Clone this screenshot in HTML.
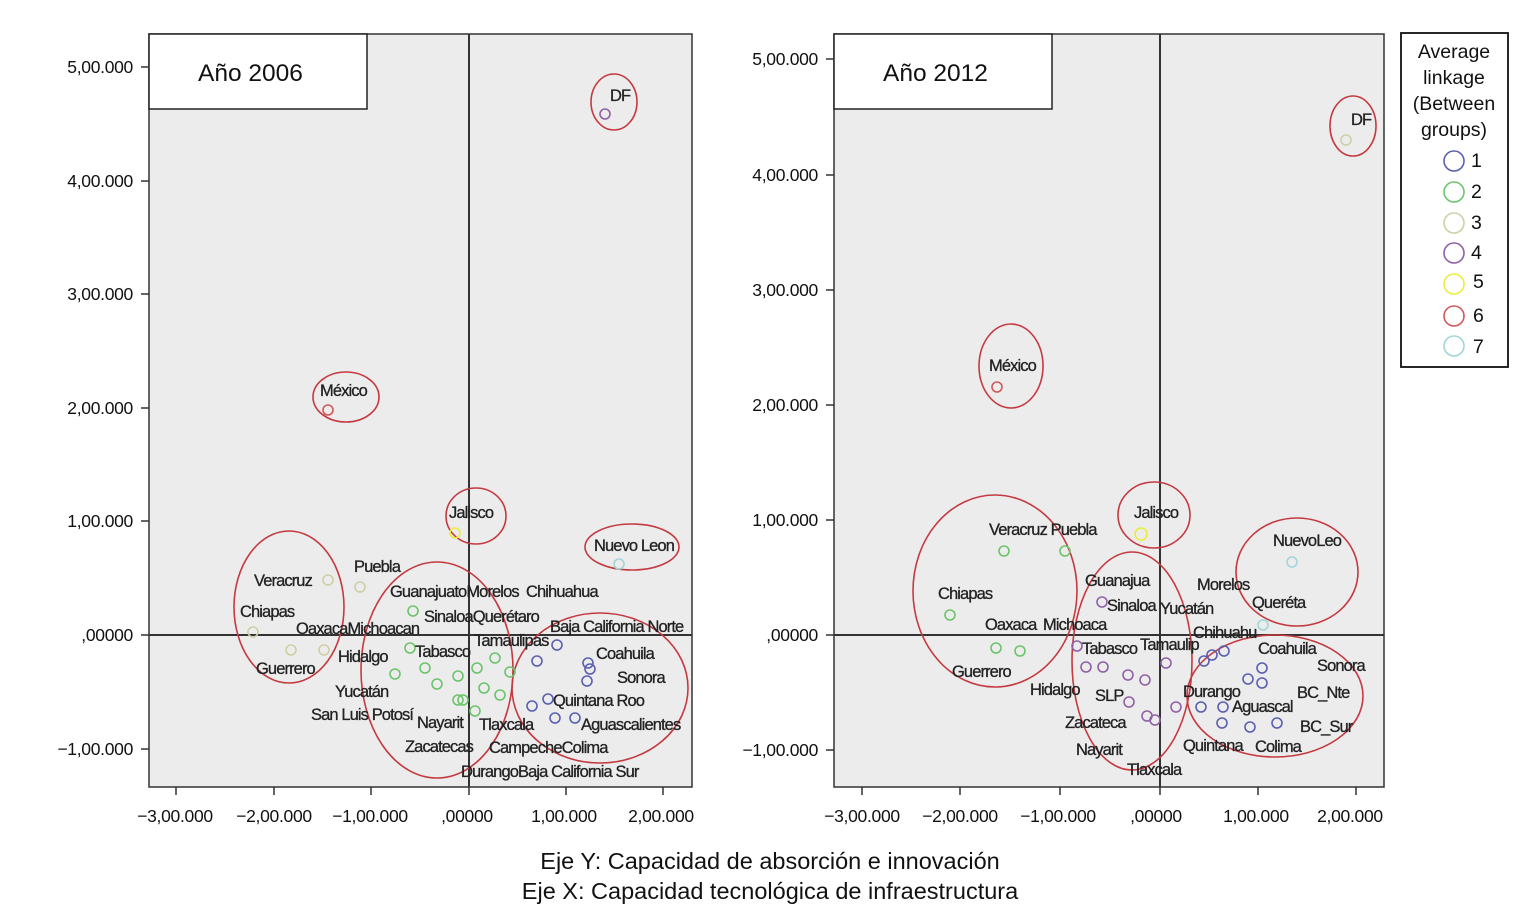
<!DOCTYPE html>
<html><head><meta charset="utf-8"><style>
body{margin:0;background:#fff}
svg{display:block}
.l{font-family:"Liberation Sans",sans-serif;font-size:16.5px;fill:#222;letter-spacing:-0.9px;stroke:#222;stroke-width:0.3}
.t{font-family:"Liberation Sans",sans-serif;font-size:17.5px;fill:#111;letter-spacing:-0.3px}
.e{fill:none;stroke:#c43a40;stroke-width:1.6}
circle{fill:none;stroke-width:1.6}
.b{stroke:#5a5fb0}.g{stroke:#6cc46a}.k{stroke:#cfcfa6}.p{stroke:#9060a8}.y{stroke:#ecec40}.r{stroke:#d05a5a}.c{stroke:#9fd6d6}
</style></head><body>
<svg width="1535" height="906" viewBox="0 0 1535 906">
<!-- Plot 1 -->
<rect x="149" y="34" width="543" height="753" fill="#ececec" stroke="#333" stroke-width="1.5"/>
<line x1="469" y1="34" x2="469" y2="787" stroke="#333" stroke-width="2"/>
<rect x="149" y="34" width="218" height="75" fill="#fff" stroke="#222" stroke-width="1.5"/>
<text x="198" y="81" font-family="Liberation Sans" font-size="24.5" fill="#111">Año 2006</text>
<line x1="149" y1="635" x2="692" y2="635" stroke="#333" stroke-width="2"/>
<g stroke="#333" stroke-width="1.5">
<line x1="141" y1="67" x2="149" y2="67"/><line x1="141" y1="181" x2="149" y2="181"/><line x1="141" y1="294" x2="149" y2="294"/><line x1="141" y1="408" x2="149" y2="408"/><line x1="141" y1="521" x2="149" y2="521"/><line x1="141" y1="635" x2="149" y2="635"/><line x1="141" y1="749" x2="149" y2="749"/>
<line x1="176" y1="787" x2="176" y2="795"/><line x1="274" y1="787" x2="274" y2="795"/><line x1="371" y1="787" x2="371" y2="795"/><line x1="469" y1="787" x2="469" y2="795"/><line x1="566" y1="787" x2="566" y2="795"/><line x1="663" y1="787" x2="663" y2="795"/>
</g>
<g class="t" text-anchor="end">
<text x="133" y="73">5,00.000</text><text x="133" y="187">4,00.000</text><text x="133" y="300">3,00.000</text><text x="133" y="414">2,00.000</text><text x="133" y="527">1,00.000</text><text x="133" y="641">,00000</text><text x="133" y="755">−1,00.000</text>
</g>
<g class="t" text-anchor="middle">
<text x="175" y="822">−3,00.000</text><text x="274" y="822">−2,00.000</text><text x="370" y="822">−1,00.000</text><text x="467" y="822">,00000</text><text x="564" y="822">1,00.000</text><text x="661" y="822">2,00.000</text>
</g>
<ellipse class="e" cx="289" cy="607" rx="55" ry="76"/>
<ellipse class="e" cx="437" cy="670" rx="76" ry="108"/>
<ellipse class="e" cx="600" cy="688" rx="88" ry="75"/>
<ellipse class="e" cx="632" cy="547" rx="47" ry="23"/>
<ellipse class="e" cx="476" cy="516" rx="30" ry="28"/>
<ellipse class="e" cx="346" cy="397" rx="33" ry="25"/>
<ellipse class="e" cx="614" cy="102" rx="23" ry="28"/>
<g>
<circle class="p" cx="605" cy="114" r="5"/><circle class="r" cx="328" cy="410" r="5"/>
<circle class="y" cx="455" cy="533" r="5"/><circle class="c" cx="619" cy="564" r="5"/>
<circle class="k" cx="328" cy="580" r="5"/><circle class="k" cx="360" cy="587" r="5"/><circle class="k" cx="253" cy="632" r="5"/><circle class="k" cx="291" cy="650" r="5"/><circle class="k" cx="324" cy="650" r="5"/>
<circle class="g" cx="413" cy="611" r="5"/><circle class="g" cx="410" cy="648" r="5"/><circle class="g" cx="395" cy="674" r="5"/><circle class="g" cx="425" cy="668" r="5"/><circle class="g" cx="437" cy="684" r="5"/><circle class="g" cx="458" cy="676" r="5"/><circle class="g" cx="458" cy="700" r="5"/><circle class="g" cx="463" cy="700" r="5"/><circle class="g" cx="475" cy="711" r="5"/><circle class="g" cx="477" cy="668" r="5"/><circle class="g" cx="495" cy="658" r="5"/><circle class="g" cx="484" cy="688" r="5"/><circle class="g" cx="500" cy="695" r="5"/><circle class="g" cx="510" cy="672" r="5"/>
<circle class="b" cx="557" cy="645" r="5"/><circle class="b" cx="537" cy="661" r="5"/><circle class="b" cx="588" cy="663" r="5"/><circle class="b" cx="590" cy="669" r="5"/><circle class="b" cx="587" cy="681" r="5"/><circle class="b" cx="548" cy="699" r="5"/><circle class="b" cx="532" cy="706" r="5"/><circle class="b" cx="555" cy="718" r="5"/><circle class="b" cx="575" cy="718" r="5"/>
</g>
<g class="l">
<text x="610" y="101">DF</text><text x="320" y="396">México</text><text x="449" y="518">Jalisco</text><text x="594" y="551">Nuevo Leon</text>
<text x="254" y="586">Veracruz</text><text x="354" y="572">Puebla</text><text x="240" y="617">Chiapas</text>
<text x="390" y="597">GuanajuatoMorelos</text><text x="526" y="597">Chihuahua</text><text x="424" y="622">SinaloaQuerétaro</text>
<text x="296" y="634">OaxacaMichoacan</text><text x="550" y="632">Baja California Norte</text><text x="474" y="646">Tamaulipas</text>
<text x="415" y="657">Tabasco</text><text x="338" y="662">Hidalgo</text><text x="596" y="659">Coahuila</text><text x="256" y="674">Guerrero</text>
<text x="617" y="683">Sonora</text><text x="335" y="697">Yucatán</text><text x="553" y="706">Quintana Roo</text>
<text x="311" y="720">San Luis Potosí</text><text x="417" y="728">Nayarit</text><text x="479" y="730">Tlaxcala</text><text x="581" y="730">Aguascalientes</text>
<text x="405" y="752">Zacatecas</text><text x="489" y="753">CampecheColima</text><text x="461" y="777">DurangoBaja California Sur</text>
</g>
<!-- Plot 2 -->
<rect x="834" y="34" width="550" height="753" fill="#ececec" stroke="#333" stroke-width="1.5"/>
<line x1="1160" y1="34" x2="1160" y2="787" stroke="#333" stroke-width="2"/>
<rect x="834" y="34" width="218" height="75" fill="#fff" stroke="#222" stroke-width="1.5"/>
<text x="883" y="81" font-family="Liberation Sans" font-size="24.5" fill="#111">Año 2012</text>
<line x1="834" y1="635" x2="1384" y2="635" stroke="#333" stroke-width="2"/>
<g stroke="#333" stroke-width="1.5">
<line x1="826" y1="59" x2="834" y2="59"/><line x1="826" y1="175" x2="834" y2="175"/><line x1="826" y1="290" x2="834" y2="290"/><line x1="826" y1="405" x2="834" y2="405"/><line x1="826" y1="520" x2="834" y2="520"/><line x1="826" y1="635" x2="834" y2="635"/><line x1="826" y1="750" x2="834" y2="750"/>
<line x1="862" y1="787" x2="862" y2="795"/><line x1="960" y1="787" x2="960" y2="795"/><line x1="1060" y1="787" x2="1060" y2="795"/><line x1="1160" y1="787" x2="1160" y2="795"/><line x1="1258" y1="787" x2="1258" y2="795"/><line x1="1356" y1="787" x2="1356" y2="795"/>
</g>
<g class="t" text-anchor="end">
<text x="818" y="65">5,00.000</text><text x="818" y="181">4,00.000</text><text x="818" y="296">3,00.000</text><text x="818" y="411">2,00.000</text><text x="818" y="526">1,00.000</text><text x="818" y="641">,00000</text><text x="818" y="756">−1,00.000</text>
</g>
<g class="t" text-anchor="middle">
<text x="862" y="822">−3,00.000</text><text x="960" y="822">−2,00.000</text><text x="1058" y="822">−1,00.000</text><text x="1156" y="822">,00000</text><text x="1256" y="822">1,00.000</text><text x="1350" y="822">2,00.000</text>
</g>
<ellipse class="e" cx="995" cy="591" rx="82" ry="96"/>
<ellipse class="e" cx="1132" cy="661" rx="60" ry="109"/>
<ellipse class="e" cx="1275" cy="696" rx="88" ry="61"/>
<ellipse class="e" cx="1297" cy="572" rx="61" ry="54"/>
<ellipse class="e" cx="1154" cy="515" rx="36" ry="33"/>
<ellipse class="e" cx="1011" cy="366" rx="32" ry="42"/>
<ellipse class="e" cx="1353" cy="126" rx="23" ry="30"/>
<g>
<circle class="k" cx="1346" cy="140" r="5"/><circle class="r" cx="997" cy="387" r="5"/>
<circle class="y" cx="1141" cy="534" r="6"/><circle class="c" cx="1292" cy="562" r="5"/><circle class="c" cx="1263" cy="625" r="5"/>
<circle class="g" cx="1004" cy="551" r="5"/><circle class="g" cx="1065" cy="551" r="5"/><circle class="g" cx="950" cy="615" r="5"/><circle class="g" cx="996" cy="648" r="5"/><circle class="g" cx="1020" cy="651" r="5"/>
<circle class="p" cx="1102" cy="602" r="5"/><circle class="p" cx="1077" cy="646" r="5"/><circle class="p" cx="1086" cy="667" r="5"/><circle class="p" cx="1103" cy="667" r="5"/><circle class="p" cx="1128" cy="675" r="5"/><circle class="p" cx="1145" cy="680" r="5"/><circle class="p" cx="1129" cy="702" r="5"/><circle class="p" cx="1147" cy="716" r="5"/><circle class="p" cx="1155" cy="720" r="5"/><circle class="p" cx="1176" cy="707" r="5"/><circle class="p" cx="1166" cy="663" r="5"/>
<circle class="b" cx="1204" cy="661" r="5"/><circle class="b" cx="1212" cy="655" r="5"/><circle class="b" cx="1224" cy="651" r="5"/><circle class="b" cx="1248" cy="679" r="5"/><circle class="b" cx="1262" cy="668" r="5"/><circle class="b" cx="1262" cy="683" r="5"/><circle class="b" cx="1201" cy="707" r="5"/><circle class="b" cx="1223" cy="707" r="5"/><circle class="b" cx="1222" cy="723" r="5"/><circle class="b" cx="1250" cy="727" r="5"/><circle class="b" cx="1277" cy="723" r="5"/>
</g>
<g class="l">
<text x="1351" y="125">DF</text><text x="989" y="371">México</text><text x="1134" y="518">Jalisco</text><text x="989" y="535">Veracruz Puebla</text>
<text x="1273" y="546">NuevoLeo</text><text x="938" y="599">Chiapas</text><text x="1085" y="586">Guanajua</text><text x="1197" y="590">Morelos</text>
<text x="1107" y="611">Sinaloa</text><text x="1160" y="614">Yucatán</text><text x="1252" y="608">Queréta</text>
<text x="985" y="630">Oaxaca</text><text x="1043" y="630">Michoaca</text><text x="1193" y="638">Chihuahu</text>
<text x="1082" y="654">Tabasco</text><text x="1140" y="650">Tamaulip</text><text x="1258" y="654">Coahuila</text><text x="1317" y="671">Sonora</text>
<text x="952" y="677">Guerrero</text><text x="1030" y="695">Hidalgo</text><text x="1095" y="701">SLP</text><text x="1183" y="697">Durango</text>
<text x="1297" y="698">BC_Nte</text><text x="1232" y="712">Aguascal</text><text x="1065" y="728">Zacateca</text><text x="1300" y="732">BC_Sur</text>
<text x="1076" y="755">Nayarit</text><text x="1183" y="751">Quintana</text><text x="1255" y="752">Colima</text><text x="1127" y="775">Tlaxcala</text>
</g>
<!-- Legend -->
<rect x="1401" y="33" width="107" height="334" fill="#fff" stroke="#111" stroke-width="1.8"/>
<g font-family="Liberation Sans" font-size="19.5" fill="#111" text-anchor="middle">
<text x="1454" y="58">Average</text><text x="1454" y="84">linkage</text><text x="1454" y="110">(Between</text><text x="1454" y="136">groups)</text>
</g>
<g>
<circle class="b" cx="1454" cy="161" r="10" stroke-width="2.5"/><circle class="g" cx="1454" cy="192" r="10" stroke-width="2.5"/><circle class="k" cx="1454" cy="223" r="10" stroke-width="2.5"/><circle class="p" cx="1454" cy="253" r="10" stroke-width="2.5"/><circle class="y" cx="1454" cy="284" r="10" stroke-width="2.5"/><circle class="r" cx="1454" cy="316" r="10" stroke-width="2.5"/><circle class="c" cx="1454" cy="346" r="10" stroke-width="2.5"/>
</g>
<g font-family="Liberation Sans" font-size="19.5" fill="#111">
<text x="1471" y="167">1</text><text x="1471" y="198">2</text><text x="1471" y="229">3</text><text x="1471" y="259">4</text><text x="1473" y="288">5</text><text x="1473" y="322">6</text><text x="1473" y="353">7</text>
</g>
<g font-family="Liberation Sans" font-size="23.5" fill="#111" text-anchor="middle">
<text x="770" y="869">Eje Y: Capacidad de absorción e innovación</text>
<text x="770" y="899">Eje X: Capacidad tecnológica de infraestructura</text>
</g>
</svg>
</body></html>
